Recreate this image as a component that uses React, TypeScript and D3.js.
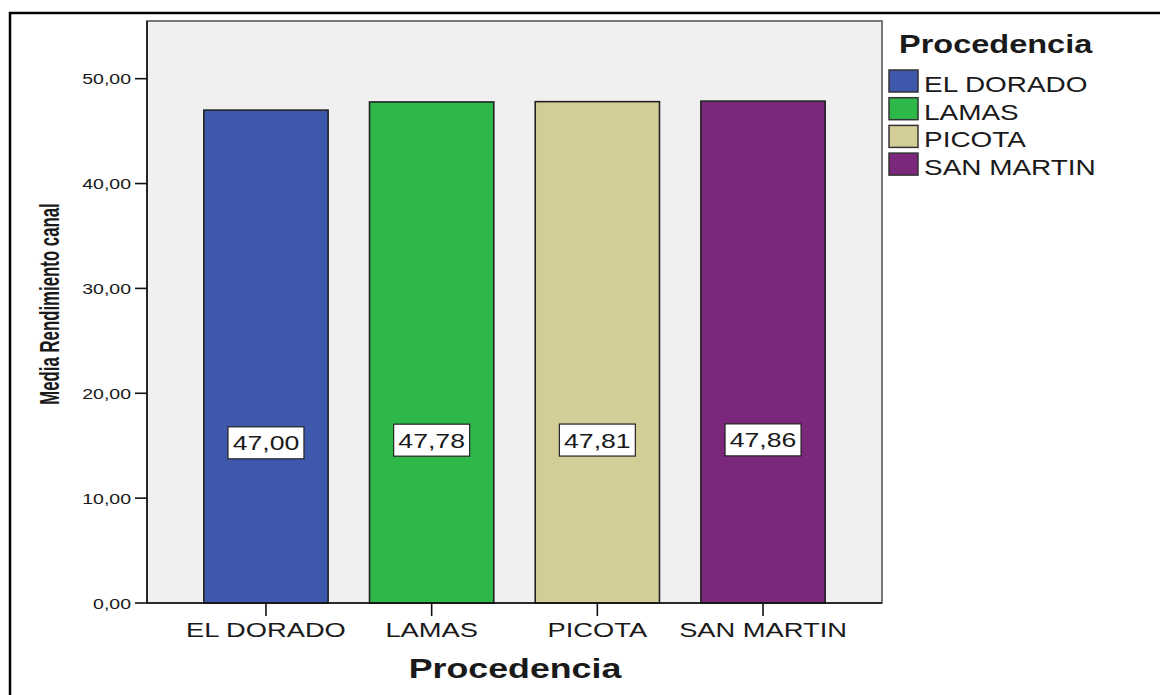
import React, { useEffect } from "react";
import * as d3 from "d3";

// Mean "Rendimiento canal" by origin (Procedencia)
const categories = ["EL DORADO", "LAMAS", "PICOTA", "SAN MARTIN"];
const means = [47.0, 47.78, 47.81, 47.86];
const colors = ["#3e58ac", "#2eb84a", "#d3ce97", "#7a277c"];
const yTicks = [0, 10, 20, 30, 40, 50];

const W = 1160;
const H = 695;
const plot = { left: 147, right: 882, top: 21, bottom: 603 };
const SX = 1.3; // horizontal stretch of the SPSS-style lettering
const FONT = "Arial, 'Liberation Sans', sans-serif";

const fmt = (v: number) => d3.format(".2f")(v).replace(".", ",");

function Txt({
  x,
  y,
  size,
  anchor = "start",
  weight = "normal",
  rotate = 0,
  sx = SX,
  children,
}: {
  x: number;
  y: number;
  size: number;
  anchor?: string;
  weight?: string;
  rotate?: number;
  sx?: number;
  children: React.ReactNode;
}) {
  return (
    <text
      transform={`translate(${x},${y}) scale(${sx},1)${rotate ? ` rotate(${rotate})` : ""}`}
      fontSize={size}
      fontFamily={FONT}
      fontWeight={weight}
      textAnchor={anchor}
      fill="#1a1a1a"
    >
      {children}
    </text>
  );
}

export default function App() {
  useEffect(() => {
    document.body.style.margin = "0";
  }, []);

  const x = d3
    .scaleBand<string>()
    .domain(categories)
    .range([plot.left, plot.right])
    .paddingInner(0.25)
    .paddingOuter(0.343);

  const y = d3.scaleLinear().domain([0, 55.5]).range([plot.bottom, plot.top]);

  const legendX = 889;
  const legendTop = 70;
  const legendStep = 27.7;

  return (
    <svg width={W} height={H} style={{ display: "block", background: "#fff" }}>
      {/* outer frame */}
      <rect x={10} y={13} width={W + 20} height={H + 20} fill="none" stroke="#000" strokeWidth={2.5} />

      {/* plot background */}
      <rect
        x={plot.left}
        y={plot.top}
        width={plot.right - plot.left}
        height={plot.bottom - plot.top}
        fill="#f0f0f0"
        stroke="#5a5a5a"
        strokeWidth={1.6}
      />

      {/* bars */}
      {categories.map((c, i) => (
        <rect
          key={c}
          x={x(c)}
          y={y(means[i])}
          width={x.bandwidth()}
          height={y(0) - y(means[i])}
          fill={colors[i]}
          stroke="#222"
          strokeWidth={1.6}
        />
      ))}

      {/* y axis */}
      <line x1={plot.left} x2={plot.left} y1={plot.top} y2={plot.bottom} stroke="#111" strokeWidth={1.6} />
      {yTicks.map((t) => (
        <g key={t}>
          <line x1={plot.left - 12} x2={plot.left} y1={y(t)} y2={y(t)} stroke="#111" strokeWidth={1.6} />
          <Txt x={plot.left - 16} y={y(t) + 5.5} size={15} anchor="end">
            {fmt(t)}
          </Txt>
        </g>
      ))}

      {/* x axis */}
      <line x1={plot.left} x2={plot.right} y1={plot.bottom} y2={plot.bottom} stroke="#111" strokeWidth={1.6} />
      {categories.map((c) => {
        const cx = (x(c) as number) + x.bandwidth() / 2;
        return (
          <g key={c}>
            <line x1={cx} x2={cx} y1={plot.bottom} y2={plot.bottom + 13} stroke="#111" strokeWidth={1.6} />
            <Txt x={cx} y={637} size={21} anchor="middle">
              {c}
            </Txt>
          </g>
        );
      })}

      {/* value labels */}
      {categories.map((c, i) => {
        const cx = (x(c) as number) + x.bandwidth() / 2;
        const cy = y(means[i] * 0.325);
        const bw = 76;
        const bh = 32;
        return (
          <g key={c}>
            <rect x={cx - bw / 2} y={cy - bh / 2} width={bw} height={bh} fill="#fff" stroke="#222" strokeWidth={1.2} />
            <Txt x={cx} y={cy + 7.5} size={20.5} anchor="middle">
              {fmt(means[i])}
            </Txt>
          </g>
        );
      })}

      {/* axis titles */}
      <Txt x={515} y={678} size={27.5} anchor="middle" weight="bold">
        Procedencia
      </Txt>
      <Txt x={59} y={304} size={16.8} anchor="middle" weight="bold" rotate={-90} sx={1.6}>
        Media Rendimiento canal
      </Txt>

      {/* legend */}
      <Txt x={899} y={53} size={25} weight="bold">
        Procedencia
      </Txt>
      {categories.map((c, i) => {
        const top = legendTop + i * legendStep;
        return (
          <g key={c}>
            <rect x={legendX} y={top} width={29} height={22} fill={colors[i]} stroke="#333" strokeWidth={1.5} />
            <Txt x={924} y={top + 22} size={21.5}>
              {c}
            </Txt>
          </g>
        );
      })}
    </svg>
  );
}
